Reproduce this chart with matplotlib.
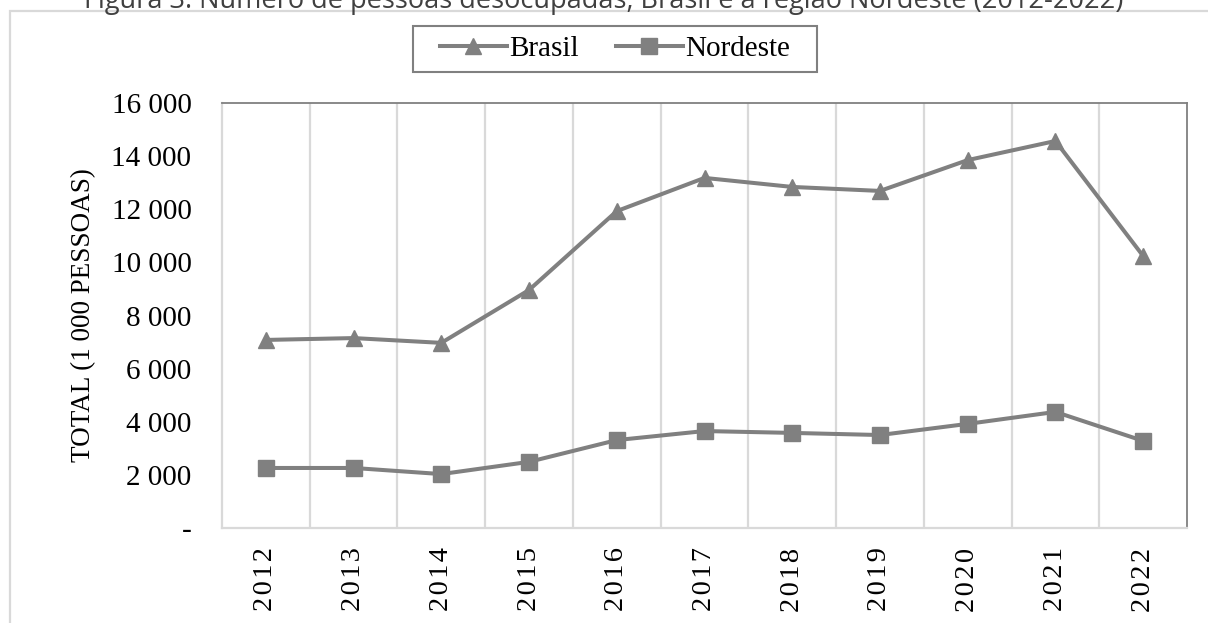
import matplotlib
matplotlib.use('Agg')
import matplotlib.pyplot as plt
from matplotlib.patches import Rectangle
from matplotlib.ticker import FixedLocator, FuncFormatter
import numpy as np

# values (thousands of people)
YEARS = ['2012', '2013', '2014', '2015', '2016', '2017', '2018', '2019', '2020', '2021', '2022']
BRASIL = [7080, 7150, 6970, 8960, 11930, 13180, 12840, 12690, 13850, 14570, 10240]
NORDESTE = [2260, 2260, 2030, 2490, 3310, 3650, 3580, 3500, 3920, 4370, 3280]
Y_TICKS = [0, 2000, 4000, 6000, 8000, 10000, 12000, 14000, 16000]

TITLE = 'Figura 3: Número de pessoas desocupadas, Brasil e a região Nordeste (2012-2022)'
SERIF = ['Liberation Serif', 'DejaVu Serif']
FONT_SIZE = 21
GREY = '#808080'
LIGHT = '#d9d9d9'

plt.rcParams.update({
    'font.family': SERIF,
    'font.size': FONT_SIZE,
})

W, H = 1208, 623
fig = plt.figure(figsize=(W / 100, H / 100), dpi=100)
ax = fig.add_axes([222 / W, 95 / H, 965 / W, 425 / H])

# outer frame of the figure box
fig.patches.append(Rectangle((10 / W, -0.2), 1.2, 1.2 - 11 / H,
                             transform=fig.transFigure, fill=False,
                             edgecolor=LIGHT, linewidth=1.6, clip_on=False))

# caption above the frame (cut by the top edge, as in the source)
fig.text(0.5, 1 - 8 / H, TITLE, ha='center', va='baseline',
         fontsize=19.5, family='Open Sans', color='#404040')

x = np.arange(len(YEARS))
ax.plot(x, BRASIL, color=GREY, linewidth=2.9, marker='^', markersize=12,
        label='Brasil')
ax.plot(x, NORDESTE, color=GREY, linewidth=2.9, marker='s', markersize=11,
        label='Nordeste')

ax.set_xlim(-0.5, len(YEARS) - 0.5)
ax.set_ylim(0, 16000)
ax.set_yticks(Y_TICKS)
ax.yaxis.set_major_formatter(FuncFormatter(
    lambda v, p: '-' if v == 0 else f'{int(v):,}'.replace(',', ' ')))
ax.set_xticks(x)
ax.set_xticklabels(['\u200a'.join(y) for y in YEARS], rotation=90,
                   fontsize=20.5)
ax.xaxis.set_minor_locator(FixedLocator(np.arange(0.5, len(YEARS) - 1, 1)))
ax.grid(True, which='minor', axis='x', color=LIGHT, linewidth=1.6)
ax.tick_params(which='both', length=0)
ax.tick_params(axis='y', pad=22)
ax.tick_params(axis='x', pad=14)

for side in ['left', 'bottom']:
    ax.spines[side].set_color(LIGHT)
    ax.spines[side].set_linewidth(1.6)
for side in ['top', 'right']:
    ax.spines[side].set_color(GREY)
    ax.spines[side].set_linewidth(1.3)

ax.set_ylabel('TOTAL (1 000 PESSOAS)', fontsize=19.5, labelpad=11)

# legend without its own frame; box drawn to match the source proportions
ax.legend(loc='center', bbox_to_anchor=(615 / W, 1 - 49 / H),
          bbox_transform=fig.transFigure, ncol=2, frameon=False,
          handlelength=2.3, handletextpad=0.1, columnspacing=1.25,
          borderpad=0.3)
fig.patches.append(Rectangle((413 / W, 1 - 72 / H), 404 / W, 46 / H,
                             transform=fig.transFigure, fill=False,
                             edgecolor=GREY, linewidth=1.5))

fig.savefig('out.png', dpi=100)
